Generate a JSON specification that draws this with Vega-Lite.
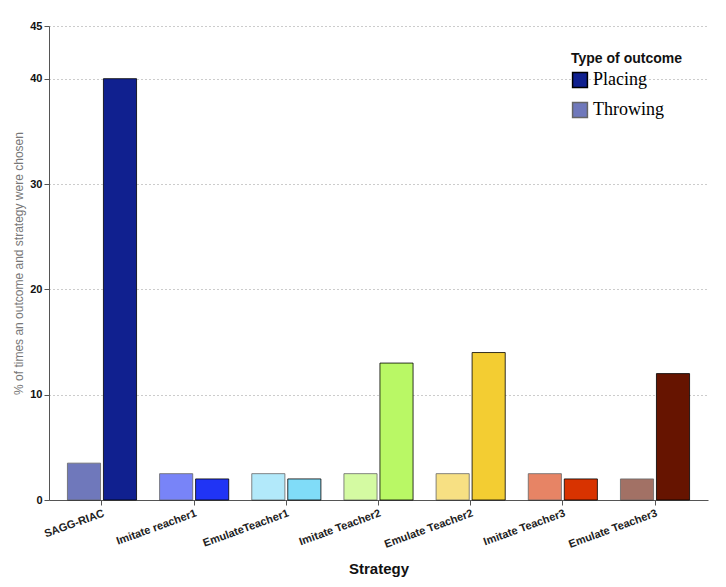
{
  "$schema": "https://vega.github.io/schema/vega-lite/v6.json",
  "width": 726,
  "height": 587,
  "autosize": {"type": "fit", "contains": "padding"},
  "padding": {"left": 12, "right": 18, "top": 20, "bottom": 10},
  "background": "white",
  "data": {
    "values": [
      {"strategy": "SAGG-RIAC", "outcome": "Placing", "percent": 40},
      {"strategy": "SAGG-RIAC", "outcome": "Throwing", "percent": 3.5},
      {"strategy": "Imitate reacher1", "outcome": "Placing", "percent": 2},
      {"strategy": "Imitate reacher1", "outcome": "Throwing", "percent": 2.5},
      {"strategy": "EmulateTeacher1", "outcome": "Placing", "percent": 2},
      {"strategy": "EmulateTeacher1", "outcome": "Throwing", "percent": 2.5},
      {"strategy": "Imitate Teacher2", "outcome": "Placing", "percent": 13},
      {"strategy": "Imitate Teacher2", "outcome": "Throwing", "percent": 2.5},
      {"strategy": "Emulate Teacher2", "outcome": "Placing", "percent": 14},
      {"strategy": "Emulate Teacher2", "outcome": "Throwing", "percent": 2.5},
      {"strategy": "Imitate Teacher3", "outcome": "Placing", "percent": 2},
      {"strategy": "Imitate Teacher3", "outcome": "Throwing", "percent": 2.5},
      {"strategy": "Emulate Teacher3", "outcome": "Placing", "percent": 12},
      {"strategy": "Emulate Teacher3", "outcome": "Throwing", "percent": 2}
    ]
  },
  "mark": {"type": "bar", "stroke": "black", "strokeWidth": 0.8},
  "encoding": {
    "x": {
      "field": "strategy",
      "type": "nominal",
      "sort": ["SAGG-RIAC", "Imitate reacher1", "EmulateTeacher1", "Imitate Teacher2", "Emulate Teacher2", "Imitate Teacher3", "Emulate Teacher3"],
      "scale": {"paddingInner": 0.25},
      "title": "Strategy",
      "axis": {
        "labelAngle": -20,
        "labelFont": "Liberation Sans",
        "labelFontWeight": "bold",
        "labelFontSize": 11,
        "labelColor": "#222",
        "titleFont": "Liberation Sans",
        "titleFontSize": 15,
        "titleFontWeight": "bold",
        "titleColor": "#111",
        "titlePadding": 12,
        "domainColor": "#555",
        "tickColor": "#555"
      }
    },
    "xOffset": {"field": "outcome", "sort": ["Throwing", "Placing"], "scale": {"paddingInner": 0.08}},
    "y": {
      "field": "percent",
      "type": "quantitative",
      "scale": {"domain": [0, 45]},
      "title": "% of times an outcome and strategy were chosen",
      "axis": {
        "values": [0, 10, 20, 30, 40, 45],
        "labelFont": "Liberation Sans",
        "labelFontWeight": "bold",
        "labelFontSize": 11,
        "labelColor": "#111",
        "titleFont": "Liberation Sans",
        "titleFontSize": 12,
        "titleFontWeight": "normal",
        "titleColor": "#777",
        "gridDash": [1, 3],
        "gridColor": "#999",
        "domainColor": "#555",
        "tickColor": "#555"
      }
    },
    "color": {
      "field": "strategy",
      "type": "nominal",
      "scale": {
        "domain": ["SAGG-RIAC", "Imitate reacher1", "EmulateTeacher1", "Imitate Teacher2", "Emulate Teacher2", "Imitate Teacher3", "Emulate Teacher3"],
        "range": ["#10208f", "#2034f5", "#80dcf8", "#b9f865", "#f3cd32", "#d83300", "#661400"]
      },
      "legend": null
    },
    "opacity": {
      "field": "outcome",
      "type": "nominal",
      "scale": {"domain": ["Placing", "Throwing"], "range": [1, 0.6]},
      "legend": {
        "title": "Type of outcome",
        "orient": "top-right",
        "titleFont": "Liberation Sans",
        "titleFontSize": 14,
        "titleFontWeight": "bold",
        "titleColor": "#111",
        "labelFont": "Liberation Serif",
        "labelFontSize": 18,
        "labelColor": "#000",
        "symbolType": "square",
        "symbolSize": 220,
        "symbolFillColor": "#10208f",
        "symbolStrokeColor": "black",
        "rowPadding": 8,
        "padding": 8
      }
    }
  },
  "config": {"view": {"stroke": null}}
}
